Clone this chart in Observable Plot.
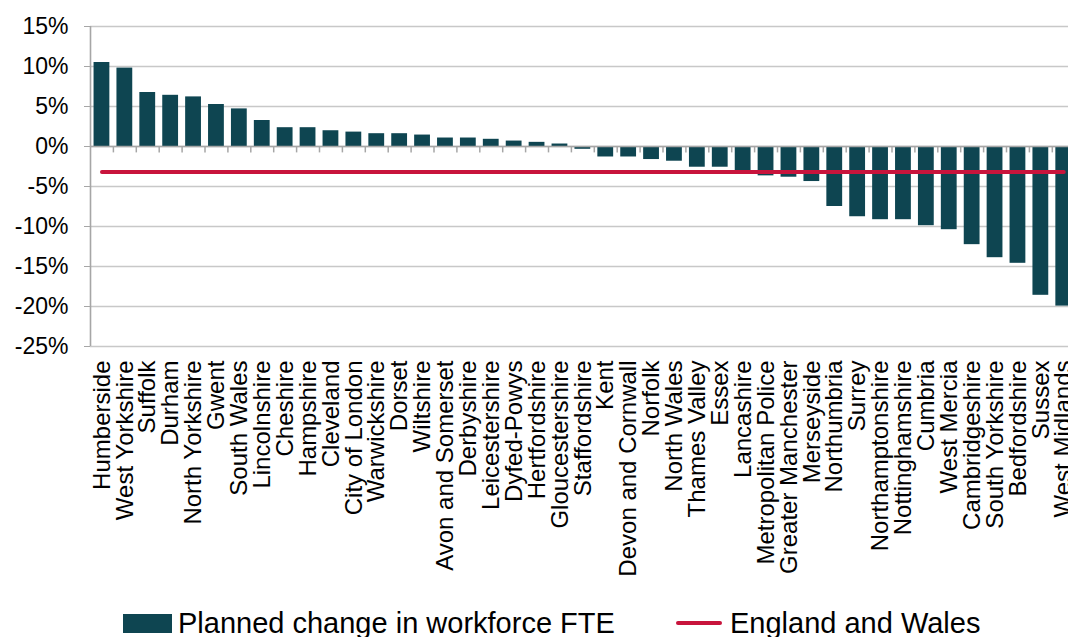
<!DOCTYPE html>
<html>
<head>
<meta charset="utf-8">
<script src="https://cdn.jsdelivr.net/npm/d3@7"></script>
<script src="https://cdn.jsdelivr.net/npm/@observablehq/plot@0.6"></script>
<style>
  html, body { margin: 0; padding: 0; background: #fff; overflow: hidden; }
  #chart svg { overflow: hidden; display: block; }
  #legend { position: relative; height: 32px; margin-top: 2px; font-family: "Liberation Sans", Arial, sans-serif; font-size: 29px; color: #000; }
  #legend .item { position: absolute; top: 0; display: flex; align-items: center; height: 32px; white-space: nowrap; }
  #legend .sw { width: 49px; height: 19px; background: #0E4551; margin-right: 6px; }
  #legend .ln { width: 46px; height: 4px; border-radius: 2px; background: #C8143C; margin-right: 8px; }
</style>
</head>
<body>
<div id="chart"></div>
<div id="legend">
  <div class="item" style="left:123px"><div class="sw"></div><span>Planned change in workforce FTE</span></div>
  <div class="item" style="left:676px"><div class="ln"></div><span>England and Wales</span></div>
</div>
<script>
const forces = ["Humberside","West Yorkshire","Suffolk","Durham","North Yorkshire","Gwent","South Wales","Lincolnshire","Cheshire","Hampshire","Cleveland","City of London","Warwickshire","Dorset","Wiltshire","Avon and Somerset","Derbyshire","Leicestershire","Dyfed-Powys","Hertfordshire","Gloucestershire","Staffordshire","Kent","Devon and Cornwall","Norfolk","North Wales","Thames Valley","Essex","Lancashire","Metropolitan Police","Greater Manchester","Merseyside","Northumbria","Surrey","Northamptonshire","Nottinghamshire","Cumbria","West Mercia","Cambridgeshire","South Yorkshire","Bedfordshire","Sussex","West Midlands"];
const plannedChange = [10.5,9.8,6.75,6.4,6.2,5.25,4.7,3.25,2.35,2.35,1.97,1.8,1.6,1.6,1.43,1.06,1.06,0.9,0.68,0.52,0.31,-0.35,-1.31,-1.31,-1.63,-1.84,-2.59,-2.59,-3.46,-3.67,-3.84,-4.38,-7.5,-8.78,-9.15,-9.15,-9.9,-10.4,-12.27,-13.9,-14.6,-18.6,-19.95];
const englandWales = -3.2;
const yTicks = [-25,-20,-15,-10,-5,0,5,10,15];

const data = forces.map((f, i) => ({force: f, value: plannedChange[i]}));

const xRange = [90, 1074.7];
const step = (xRange[1] - xRange[0]) / forces.length;

const chart = Plot.plot({
  width: 1068,
  height: 605,
  marginTop: 26,
  marginBottom: 259,
  marginLeft: 90,
  marginRight: 0,
  style: {fontFamily: "'Liberation Sans', Arial, sans-serif", fontSize: "23px", color: "#000", background: "#fff"},
  x: {domain: forces, range: xRange, paddingInner: 0.31, paddingOuter: 0.155},
  y: {domain: [-25, 15]},
  marks: [
    Plot.gridY(yTicks, {stroke: "#c8c8c8", strokeOpacity: 1, strokeWidth: 1.6}),
    Plot.barY(data, {x: "force", y: "value", fill: "#0E4551"}),
    Plot.ruleY([0], {stroke: "#a6a6a6", strokeWidth: 1.6}),
    Plot.ruleX(forces, {x: d => d, y1: 0, y2: -0.8, dx: step / 2, stroke: "#a6a6a6", strokeWidth: 1.5}),
    Plot.lineY(data, {x: "force", y: () => englandWales, stroke: "#C8143C", strokeWidth: 4, strokeLinecap: "round"}),
    Plot.ruleX([forces[0]], {x: d => d, y1: -25, y2: 15, dx: -step / 2, stroke: "#a6a6a6", strokeWidth: 1.6}),
    Plot.axisY(yTicks, {tickSize: 6, tickPadding: 16, stroke: "#a6a6a6", tickFormat: d => d + "%", fontSize: 23, label: null}),
    Plot.axisX({tickSize: 0, tickPadding: 14, tickRotate: -90, fontSize: 24, label: null})
  ]
});
document.getElementById("chart").appendChild(chart);
</script>
</body>
</html>
